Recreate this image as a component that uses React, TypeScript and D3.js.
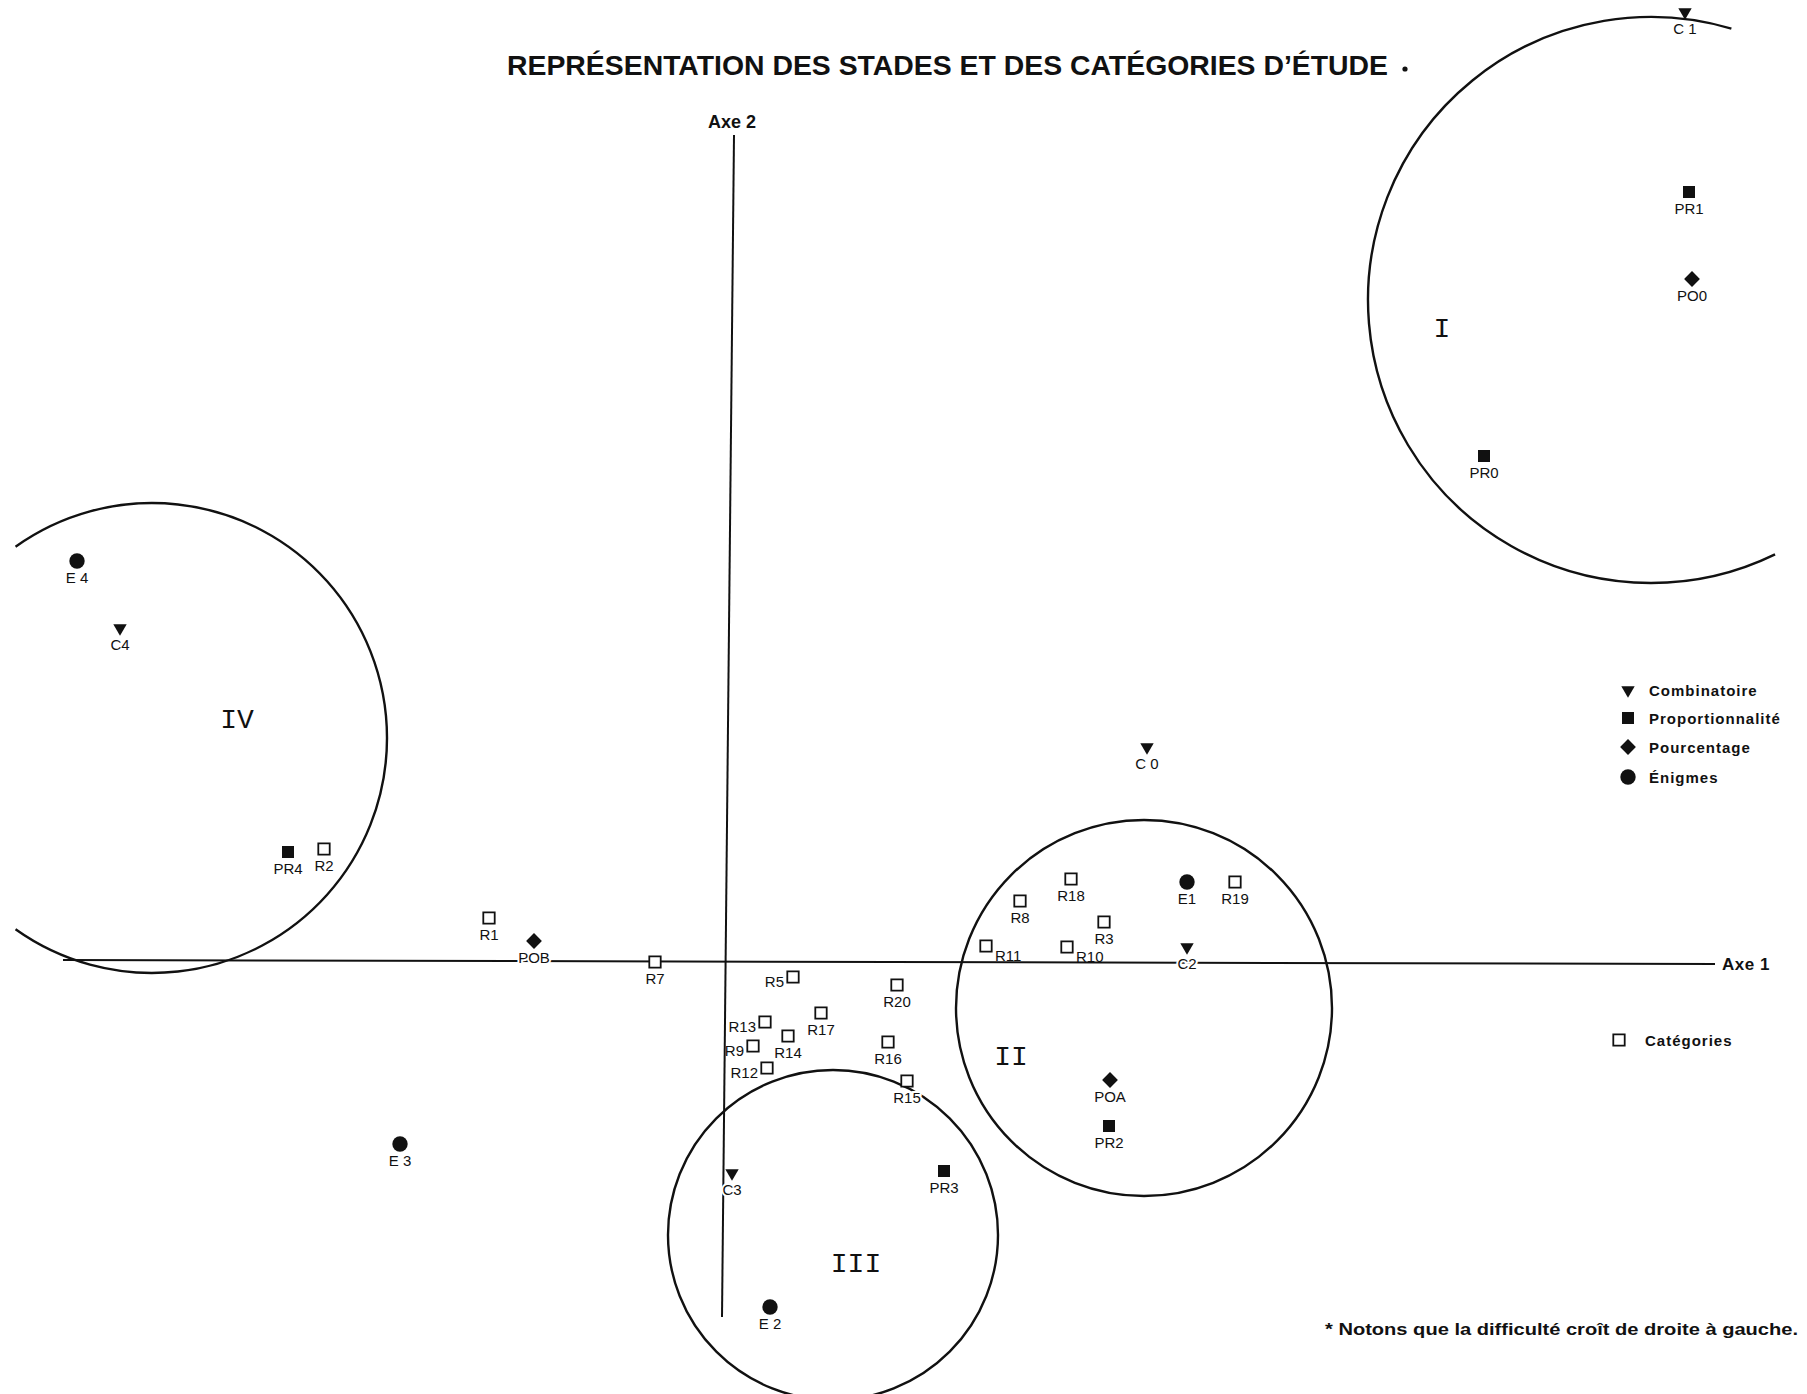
import React, { useEffect, useRef } from 'react';
import * as d3 from 'd3';

// Coordinates on the two factorial axes (1 unit = 100 px on the plate)
const combinatoire = [
  { name: 'C 0', x: 4.18, y: 2.14 },
  { name: 'C 1', x: 9.56, y: 9.49 },
  { name: 'C2', x: 4.58, y: 0.14 },
  { name: 'C3', x: 0.03, y: -2.12 },
  { name: 'C4', x: -6.09, y: 3.33 },
];

const proportionnalite = [
  { name: 'PR0', x: 7.55, y: 5.05 },
  { name: 'PR1', x: 9.6, y: 7.69 },
  { name: 'PR2', x: 3.8, y: -1.65 },
  { name: 'PR3', x: 2.15, y: -2.1 },
  { name: 'PR4', x: -4.41, y: 1.09 },
];

const pourcentage = [
  { name: 'PO0', x: 9.63, y: 6.82 },
  { name: 'POA', x: 3.81, y: -1.19 },
  { name: 'POB', x: -1.95, y: 0.2 },
];

const enigmes = [
  { name: 'E1', x: 4.58, y: 0.79 },
  { name: 'E 2', x: 0.41, y: -3.46 },
  { name: 'E 3', x: -3.29, y: -1.83 },
  { name: 'E 4', x: -6.52, y: 4.0 },
];

const categories = [
  { name: 'R1', x: -2.4, y: 0.43 },
  { name: 'R2', x: -4.05, y: 1.12 },
  { name: 'R3', x: 3.75, y: 0.39 },
  { name: 'R5', x: 0.64, y: -0.16 },
  { name: 'R7', x: -0.74, y: -0.01 },
  { name: 'R8', x: 2.91, y: 0.6 },
  { name: 'R9', x: 0.24, y: -0.85 },
  { name: 'R10', x: 3.38, y: 0.14 },
  { name: 'R11', x: 2.57, y: 0.15 },
  { name: 'R12', x: 0.38, y: -1.07 },
  { name: 'R13', x: 0.36, y: -0.61 },
  { name: 'R14', x: 0.59, y: -0.75 },
  { name: 'R15', x: 1.78, y: -1.2 },
  { name: 'R16', x: 1.59, y: -0.81 },
  { name: 'R17', x: 0.92, y: -0.52 },
  { name: 'R18', x: 3.42, y: 0.82 },
  { name: 'R19', x: 5.06, y: 0.79 },
  { name: 'R20', x: 1.68, y: -0.24 },
];

// stages: centre, radius, drawn arc (degrees, clockwise from 3 o'clock), label spot
const stades = [
  { name: 'I', cx: 9.22, cy: 6.61, r: 2.83, arc: [64, 286.5], lx: 7.13, ly: 6.33 },
  { name: 'II', cx: 4.15, cy: -0.47, r: 1.88, arc: [0, 360], lx: 2.82, ly: -0.95 },
  { name: 'III', cx: 1.04, cy: -2.74, r: 1.65, arc: [0, 360], lx: 1.27, ly: -3.02 },
  { name: 'IV', cx: -5.77, cy: 2.23, r: 2.35, arc: [234.5, 485.5], lx: -4.92, ly: 2.42 },
];

const axe1 = [[-6.66, 0.01], [9.86, -0.03]];
const axe2 = [[0.05, 8.26], [-0.07, -3.56]];

const legendItems = [
  { shape: 'triangle', text: 'Combinatoire' },
  { shape: 'square', text: 'Proportionnalité' },
  { shape: 'diamond', text: 'Pourcentage' },
  { shape: 'circle', text: 'Énigmes' },
];

const labelsLeft = ['R5', 'R9', 'R12', 'R13'];
const labelsRight = ['R10', 'R11'];
const labelsHalo = ['POB', 'C2', 'C3', 'R15'];

const ink = '#111';
const sans = "'Liberation Sans', Arial, Helvetica, sans-serif";

type Sel = d3.Selection<SVGGElement, unknown, null, undefined>;

function drawMarker(g: Sel, shape: string, cx: number, cy: number) {
  if (shape === 'triangle') {
    g.append('path')
      .attr('d', d3.symbol(d3.symbolTriangle, 78)())
      .attr('transform', `translate(${cx},${cy}) rotate(180)`)
      .attr('fill', ink);
  } else if (shape === 'square') {
    g.append('path')
      .attr('d', d3.symbol(d3.symbolSquare, 144)())
      .attr('transform', `translate(${cx},${cy})`)
      .attr('fill', ink);
  } else if (shape === 'diamond') {
    g.append('path')
      .attr('d', d3.symbol(d3.symbolSquare, 125)())
      .attr('transform', `translate(${cx},${cy}) rotate(45)`)
      .attr('fill', ink);
  } else if (shape === 'circle') {
    g.append('path')
      .attr('d', d3.symbol(d3.symbolCircle, 185)())
      .attr('transform', `translate(${cx},${cy})`)
      .attr('fill', ink);
  } else {
    g.append('path')
      .attr('d', d3.symbol(d3.symbolSquare, 130)())
      .attr('transform', `translate(${cx},${cy})`)
      .attr('fill', '#fff')
      .attr('stroke', ink)
      .attr('stroke-width', 1.8);
  }
}

export default function App() {
  const ref = useRef<SVGSVGElement>(null);

  useEffect(() => {
    const svg = d3.select(ref.current);
    svg.selectAll('*').remove();

    const x = d3.scaleLinear().domain([0, 1]).range([729, 829]);
    const y = d3.scaleLinear().domain([0, 1]).range([961, 861]);

    const root = svg.append('g') as unknown as Sel;

    // Title
    root.append('text')
      .attr('x', 507)
      .attr('y', 75)
      .attr('font-family', sans)
      .attr('font-weight', 'bold')
      .attr('font-size', 28)
      .attr('textLength', 881)
      .attr('lengthAdjust', 'spacingAndGlyphs')
      .attr('fill', ink)
      .text('REPRÉSENTATION DES STADES ET DES CATÉGORIES D’ÉTUDE');
    root.append('circle').attr('cx', 1405).attr('cy', 69).attr('r', 2.6).attr('fill', ink);

    // Axes
    const line = d3.line<number[]>().x(d => x(d[0])).y(d => y(d[1]));
    [axe1, axe2].forEach(a => {
      root.append('path')
        .attr('d', line(a))
        .attr('fill', 'none')
        .attr('stroke', ink)
        .attr('stroke-width', 2);
    });
    root.append('text')
      .attr('x', x(axe1[1][0]) + 7)
      .attr('y', y(axe1[1][1]) + 6)
      .attr('font-family', sans)
      .attr('font-weight', 'bold')
      .attr('font-size', 17)
      .attr('letter-spacing', 0.5)
      .attr('fill', ink)
      .text('Axe 1');
    root.append('text')
      .attr('x', x(axe2[0][0]) - 2)
      .attr('y', y(axe2[0][1]) - 7)
      .attr('text-anchor', 'middle')
      .attr('font-family', sans)
      .attr('font-weight', 'bold')
      .attr('font-size', 18)
      .attr('fill', ink)
      .text('Axe 2');

    // Stage circles
    stades.forEach(s => {
      const cx = x(s.cx);
      const cy = y(s.cy);
      const r = x(s.r) - x(0);
      const a0 = (s.arc[0] * Math.PI) / 180;
      const a1 = (s.arc[1] * Math.PI) / 180;
      const p = d3.path();
      p.moveTo(cx + r * Math.cos(a0), cy + r * Math.sin(a0));
      p.arc(cx, cy, r, a0, a1);
      root.append('path')
        .attr('d', p.toString())
        .attr('fill', 'none')
        .attr('stroke', ink)
        .attr('stroke-width', 2.4);
      root.append('text')
        .attr('x', x(s.lx))
        .attr('y', y(s.ly) + 9)
        .attr('text-anchor', 'middle')
        .attr('font-family', "'Liberation Mono', 'Courier New', monospace")
        .attr('font-size', 28)
        .attr('fill', ink)
        .text(s.name);
    });

    // Points
    const groups = [
      { data: categories, shape: 'open' },
      { data: combinatoire, shape: 'triangle' },
      { data: proportionnalite, shape: 'square' },
      { data: pourcentage, shape: 'diamond' },
      { data: enigmes, shape: 'circle' },
    ];
    const marks = root.append('g') as unknown as Sel;
    const labels = root.append('g') as unknown as Sel;
    groups.forEach(grp => {
      grp.data.forEach(d => {
        const px = x(d.x);
        const py = y(d.y);
        drawMarker(marks, grp.shape, px, py);
        let lx = px;
        let ly = py + 22;
        let anchor = 'middle';
        if (labelsLeft.includes(d.name)) {
          lx = px - 9;
          ly = py + 10;
          anchor = 'end';
        } else if (labelsRight.includes(d.name)) {
          lx = px + 9;
          ly = py + 15;
          anchor = 'start';
        }
        const t = labels.append('text')
          .attr('x', lx)
          .attr('y', ly)
          .attr('text-anchor', anchor)
          .attr('font-family', sans)
          .attr('font-size', 15)
          .attr('fill', ink)
          .text(d.name);
        if (labelsHalo.includes(d.name)) {
          t.attr('stroke', '#fff')
            .attr('stroke-width', 4)
            .attr('paint-order', 'stroke');
        }
      });
    });

    // Legend
    legendItems.forEach((item, i) => {
      const ly = [690, 718, 747, 777][i];
      drawMarker(root, item.shape, 1628, ly);
      root.append('text')
        .attr('x', 1649)
        .attr('y', ly + 5.5)
        .attr('font-family', sans)
        .attr('font-weight', 'bold')
        .attr('font-size', 15)
        .attr('letter-spacing', 1)
        .attr('fill', ink)
        .text(item.text);
    });
    drawMarker(root, 'open', 1619, 1040);
    root.append('text')
      .attr('x', 1645)
      .attr('y', 1045.5)
      .attr('font-family', sans)
      .attr('font-weight', 'bold')
      .attr('font-size', 15)
      .attr('letter-spacing', 1)
      .attr('fill', ink)
      .text('Catégories');

    // Footnote
    root.append('text')
      .attr('x', 1325)
      .attr('y', 1335)
      .attr('font-family', sans)
      .attr('font-weight', 'bold')
      .attr('font-size', 16)
      .attr('textLength', 473)
      .attr('lengthAdjust', 'spacingAndGlyphs')
      .attr('fill', ink)
      .text('* Notons que la difficulté croît de droite à gauche.');
  }, []);

  return (
    <svg
      ref={ref}
      width={1807}
      height={1394}
      style={{ position: 'absolute', left: 0, top: 0, background: '#fff' }}
    />
  );
}
